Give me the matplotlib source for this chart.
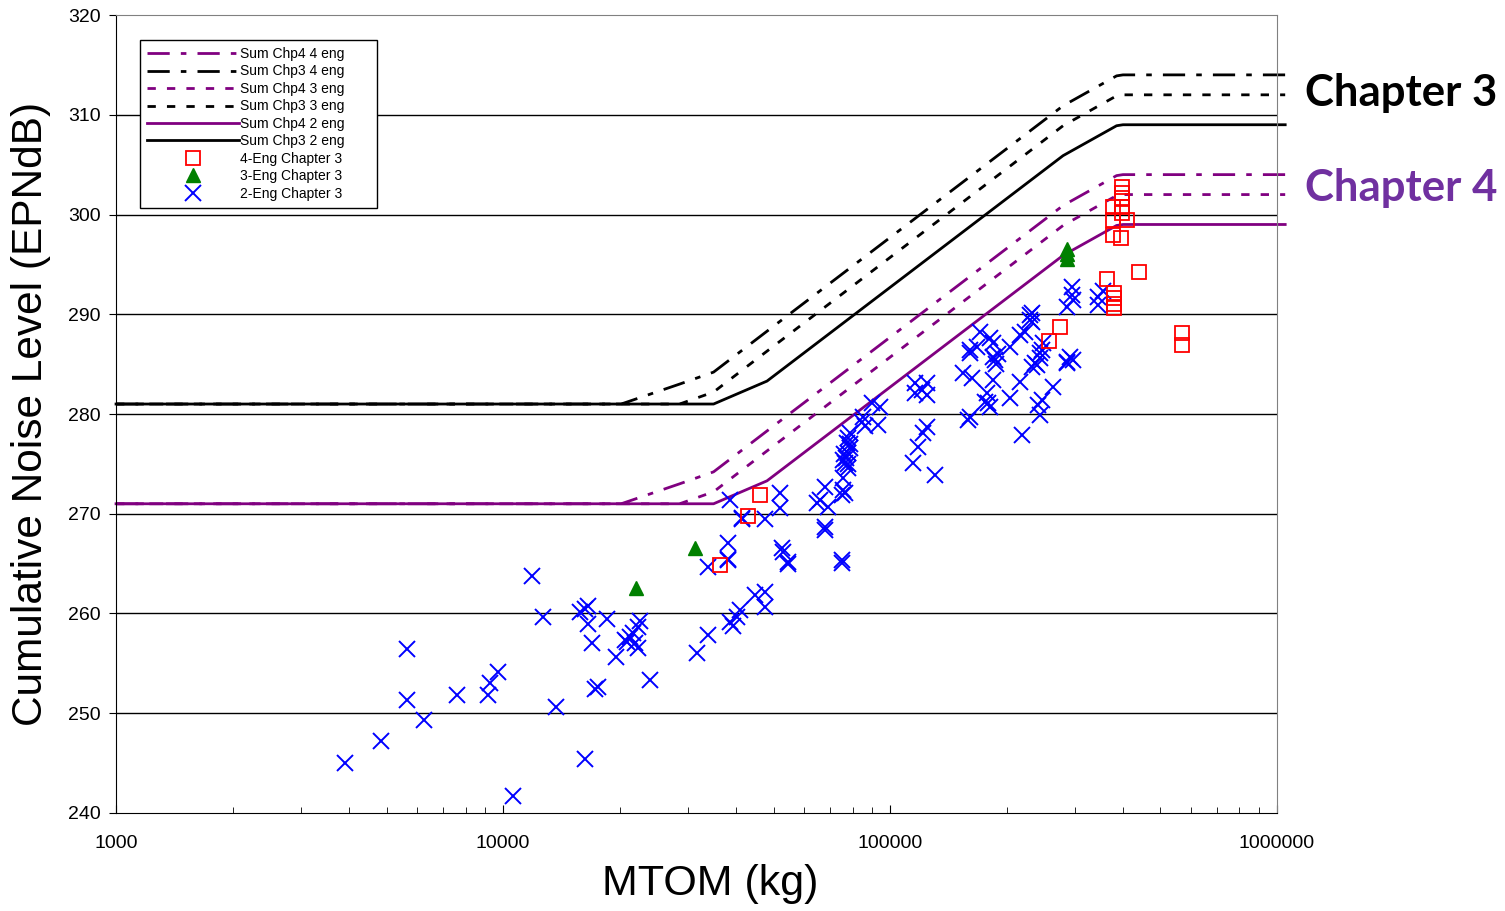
import numpy as np
import matplotlib.pyplot as plt
from matplotlib.ticker import FixedLocator, FixedFormatter, LogLocator, NullFormatter

# limit line breakpoints (MTOM, kg)
limit_mass = [1000, 20200, 28600, 35000, 48100, 280000, 385000, 400000, 1050000]
chp3_4eng = [281.0, 281.0, 283.0, 284.2, 288.3, 310.9, 313.9, 314.0, 314.0]
chp3_3eng = [281.0, 281.0, 281.0, 282.2, 286.3, 308.9, 311.9, 312.0, 312.0]
chp3_2eng = [281.0, 281.0, 281.0, 281.0, 283.3, 305.9, 308.9, 309.0, 309.0]
chp4_4eng = [271.0, 271.0, 273.0, 274.2, 278.3, 300.9, 303.9, 304.0, 304.0]
chp4_3eng = [271.0, 271.0, 271.0, 272.2, 276.3, 298.9, 301.9, 302.0, 302.0]
chp4_2eng = [271.0, 271.0, 271.0, 271.0, 273.3, 295.9, 298.9, 299.0, 299.0]

# certificated aircraft
eng4_mass = [36400, 43000, 46100, 257500, 274900, 363700, 379000, 379000, 379000, 379000,
             440000, 569000, 569000, 397700, 397700, 397700, 397700, 376900, 397700,
             376900, 409700, 376900, 395000]
eng4_noise = [264.9, 269.8, 271.9, 287.3, 288.7, 293.5, 292.1, 291.6, 291.0, 290.6,
              294.2, 288.1, 286.9, 302.8, 302.2, 301.7, 300.8, 300.8, 300.2,
              299.5, 299.5, 297.9, 297.6]

eng3_mass = [22100, 31300, 286200, 286200, 286200]
eng3_noise = [262.6, 266.6, 296.5, 296.0, 295.5]

eng2_mass = [3900, 4840, 5650, 5650, 6250, 7600, 9150, 9260, 9700, 10600,
             11900, 12700, 13700, 15800, 16300, 16600, 16600, 17000, 18600, 19600,
             16300, 17600, 17300, 22600, 22300, 21700, 21300, 20700, 20900, 21900,
             22300, 24000, 31700,
             38600, 52000, 52000, 41450, 41450, 47500, 64800, 38140, 38140, 38140,
             33860, 52600, 52900, 54500, 54500, 44800, 47500, 47500, 40960, 40240,
             38600, 39290, 33860,
             89840, 94230, 93110, 84660, 85170, 86000, 78820, 77890, 77430, 78820,
             77890, 76970, 76510, 77890, 75610, 79000, 76000, 78000,
             75610, 75610, 75160, 76510, 67920, 65930, 69150, 67920, 67920, 75160, 75160,
             116000, 124600, 116000, 124600, 121000, 154400, 162900, 160900, 167800,
             178100, 176000, 181300, 160900, 159100, 124600, 121700, 118200, 114700, 130700,
             232800, 232800, 170800, 181300, 184600, 160900, 184600, 186800, 204200,
             216800, 248500, 247100, 244100, 239800, 232800, 184600, 179200, 216800,
             204200, 263800, 247100, 241200, 244100, 219400, 286800, 190000, 188000,
             295400, 297200, 286800, 295400, 344800, 344800, 355000, 230100, 230100,
             223300, 244100, 237000, 291900, 297200, 286800]
eng2_noise = [245.0, 247.2, 256.4, 251.3, 249.3, 251.8, 251.8, 253.0, 254.1, 241.7,
              263.8, 259.6, 250.6, 260.1, 260.5, 260.8, 258.9, 257.0, 259.4, 255.6,
              245.4, 252.6, 252.4, 259.2, 258.6, 258.0, 257.6, 257.3, 257.1, 257.0,
              256.5, 253.3, 256.0,
              271.4, 272.1, 270.6, 269.6, 269.5, 269.5, 271.1, 267.1, 265.5, 265.4,
              264.7, 266.6, 266.2, 265.2, 265.0, 261.9, 262.2, 260.7, 260.4, 259.6,
              259.1, 258.7, 257.8,
              281.1, 280.7, 278.9, 279.2, 279.7, 278.8, 278.1, 277.6, 277.1, 276.6,
              276.1, 275.6, 275.1, 274.6, 275.4, 277.0, 276.0, 275.0,
              273.6, 272.4, 271.9, 272.1, 272.7, 271.4, 270.7, 268.7, 268.4, 265.4, 265.1,
              283.1, 283.1, 282.1, 281.9, 282.4, 284.1, 283.6, 286.1, 286.7,
              282.1, 281.2, 280.7, 279.7, 279.4, 278.7, 278.1, 276.7, 275.1, 273.9,
              290.1, 289.2, 288.2, 287.6, 287.1, 286.4, 285.7, 285.4, 286.7,
              287.9, 287.1, 286.4, 285.6, 284.9, 284.7, 283.4, 281.1, 283.2,
              281.6, 282.7, 281.4, 280.9, 279.9, 277.9, 285.2, 286.0, 285.0,
              292.7, 291.4, 290.7, 291.9, 291.7, 290.9, 292.3, 289.9, 289.4,
              288.2, 286.1, 285.1, 285.7, 285.4, 285.1]

x_ticks = [1000, 10000, 100000, 1000000]
x_tick_labels = ['1000', '10000', '100000', '1000000']
y_ticks = list(range(240, 321, 10))

plt.rcParams['font.family'] = ['Liberation Sans', 'DejaVu Sans']

purple = '#800080'

fig = plt.figure(figsize=(15.05, 9.11), dpi=100)
ax = fig.add_axes([0.0771, 0.1076, 0.7714, 0.8759])

ax.set_xscale('log')
ax.set_xlim(1000, 1000000)
ax.set_ylim(240, 320)

for y in y_ticks[1:-1]:
    ax.axhline(y, color='black', lw=1.0, zorder=1)

dashdot = (0, (8, 4, 2, 4))
dotted = (0, (3, 4))
line_specs = [
    (chp4_4eng, purple, dashdot, 'Sum Chp4 4 eng'),
    (chp3_4eng, 'black', dashdot, 'Sum Chp3 4 eng'),
    (chp4_3eng, purple, dotted, 'Sum Chp4 3 eng'),
    (chp3_3eng, 'black', dotted, 'Sum Chp3 3 eng'),
    (chp4_2eng, purple, '-', 'Sum Chp4 2 eng'),
    (chp3_2eng, 'black', '-', 'Sum Chp3 2 eng'),
]
for vals, col, ls, lab in line_specs:
    ax.plot(limit_mass, vals, color=col, ls=ls, lw=2.0, label=lab, clip_on=False, zorder=2)

ax.plot(eng4_mass, eng4_noise, ls='none', marker='s', ms=10, mfc='none', mec='red',
        mew=1.3, label='4-Eng Chapter 3', zorder=4)
ax.plot(eng3_mass, eng3_noise, ls='none', marker='^', ms=10, color='green',
        label='3-Eng Chapter 3', zorder=4)
ax.plot(eng2_mass, eng2_noise, ls='none', marker='x', ms=12, mew=1.4, color='blue',
        label='2-Eng Chapter 3', zorder=3)

ax.xaxis.set_major_locator(FixedLocator(x_ticks))
ax.xaxis.set_major_formatter(FixedFormatter(x_tick_labels))
ax.xaxis.set_minor_locator(LogLocator(base=10, subs=np.arange(2, 10)))
ax.xaxis.set_minor_formatter(NullFormatter())
ax.set_yticks(y_ticks)
ax.tick_params(axis='x', which='both', direction='in', labelsize=14, pad=16)
ax.tick_params(axis='x', which='major', length=6)
ax.tick_params(axis='x', which='minor', length=4)
ax.tick_params(axis='y', direction='out', labelsize=14, length=5, pad=6)

for side in ('top', 'right'):
    ax.spines[side].set_color('#808080')
for side in ('left', 'bottom'):
    ax.spines[side].set_color('black')

ax.set_xlabel('MTOM (kg)', fontsize=31)
ax.xaxis.set_label_coords(0.512, -0.064)
ax.set_ylabel('Cumulative Noise Level (EPNdB)', fontsize=30.5, labelpad=12)

leg = ax.legend(loc='upper left', bbox_to_anchor=(0.0207, 0.9687, 0.2041, 0),
                mode='expand', fontsize=10, handlelength=6.6, handletextpad=0.1,
                labelspacing=0.25, borderpad=0.5, fancybox=False, framealpha=1,
                edgecolor='black', borderaxespad=0)
leg.get_frame().set_linewidth(1.0)

fig.text(0.867, 0.898, 'Chapter 3', fontsize=31.5, fontweight='bold',
         family=['Lato', 'DejaVu Sans'], color='black', va='center', ha='left')
fig.text(0.867, 0.7935, 'Chapter 4', fontsize=31.5, fontweight='bold',
         family=['Lato', 'DejaVu Sans'], color='#7030A0', va='center', ha='left')

fig.savefig('out.png', dpi=100)
